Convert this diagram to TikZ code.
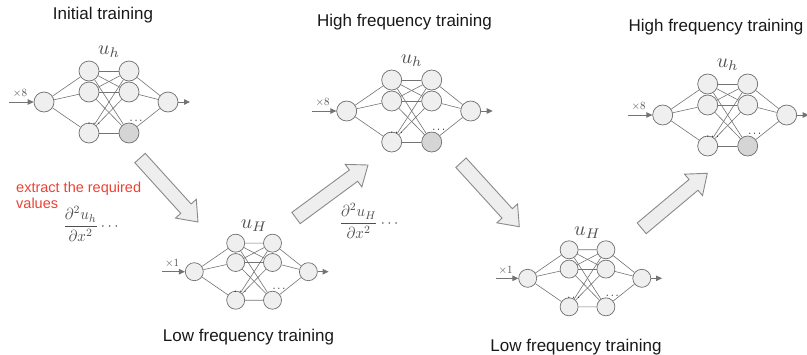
\RequirePackage{fix-cm}
\documentclass[tikz,border=0pt]{standalone}
\usepackage{amsmath}
\usepackage{graphicx}
\usepackage{fontspec}
\newfontfamily\hfont{Liberation Sans}
\usetikzlibrary{calc,arrows.meta}
\definecolor{nfill}{HTML}{EFEFEF}
\definecolor{ndark}{HTML}{D5D5D5}
\definecolor{ncol}{HTML}{6E6E6E}
\definecolor{lcol}{HTML}{737373}
\definecolor{afill}{HTML}{EEEEEE}
\definecolor{acol}{HTML}{8A8A8A}
\definecolor{mcol}{HTML}{505050}
\definecolor{redtxt}{RGB}{234,67,53}
\newcommand\blockarrow[1]{%
  \coordinate (#1h) at ($(#1t)!18pt!(#1s)$);
  \draw[blockarr] ($(#1s)!7pt!90:(#1t)$) -- ($(#1h)!7pt!90:(#1t)$) -- ($(#1h)!14pt!90:(#1t)$)
    -- (#1t) -- ($(#1h)!14pt!-90:(#1t)$) -- ($(#1h)!7pt!-90:(#1t)$) -- ($(#1s)!7pt!-90:(#1t)$) -- cycle;
}
\tikzset{
  neuron/.style={circle, draw=ncol, fill=nfill, line width=0.7pt, inner sep=0pt},
  link/.style={draw=lcol, line width=0.6pt},
  iolink/.style={draw=lcol, line width=0.8pt, -{Triangle[length=6pt,width=5.5pt]}},
  blockarr/.style={draw=acol, fill=afill, line width=0.9pt, line join=miter},
  heading/.style={font=\hfont\fontsize{17}{20}\selectfont, text=black!90, anchor=base, inner sep=0pt},
  netlabel/.style={font=\fontsize{10}{12}\selectfont, text=mcol, inner sep=0pt},
  mullabel/.style={font=\fontsize{10}{12}\selectfont, text=mcol, inner sep=0pt},
  dotslabel/.style={font=\fontsize{10}{12}\selectfont, inner sep=0pt},
  pics/net/.style n args={4}{code={
    \node[neuron, minimum size=#4] (-I) at (0,0) {};
    \node[neuron, minimum size=#4] (-a1) at (45,-31) {};
    \node[neuron, minimum size=#4] (-a2) at (45,-10) {};
    \node[neuron, minimum size=#4] (-a3) at (45,31) {};
    \node[neuron, minimum size=#4] (-b1) at (85,-31) {};
    \node[neuron, minimum size=#4] (-b2) at (85,-10) {};
    \node[neuron, minimum size=#4, fill=#3] (-b3) at (85,31) {};
    \node[neuron, minimum size=#4] (-O) at (124,0) {};
    \draw[link] (-I) -- (-a1); \draw[link] (-I) -- (-a2); \draw[link] (-I) -- (-a3);
    \draw[link] (-a1) -- (-b1); \draw[link] (-a1) -- (-b2); \draw[link] (-a1) -- (-b3);
    \draw[link] (-a2) -- (-b1); \draw[link] (-a2) -- (-b2); \draw[link] (-a2) -- (-b3);
    \draw[link] (-a3) -- (-b1); \draw[link] (-a3) -- (-b2); \draw[link] (-a3) -- (-b3);
    \draw[link] (-b1) -- (-O); \draw[link] (-b2) -- (-O); \draw[link] (-b3) -- (-O);
    \coordinate (-in) at (-35,0);
    \coordinate (-out) at (146,0);
    \draw[iolink] (-in) -- (-I);
    \draw[iolink] (-O) -- (-out);
    \node[netlabel] (-lab) at (65,-50) {\scalebox{2}{#1}};
    \node[mullabel] (-mul) at (-24,-9) {\scalebox{1.1}{#2}};
    \node[dotslabel] (-d1) at (51,22) {\scalebox{1.1}{$\cdots$}};
    \node[dotslabel] (-d2) at (93,19) {\scalebox{1.1}{$\cdots$}};
  }}
}
\begin{document}
\begin{tikzpicture}[x=1pt,y=-1pt]
\useasboundingbox (0,0) rectangle (807,354);
% headings
\node[heading] (h1) at (103,19) {Initial training};
\node[heading] (h2) at (404.5,26) {High frequency training};
\node[heading] (h3) at (716,31) {High frequency training};
\node[heading] (l1) at (248.5,341) {Low frequency training};
\node[heading] (l2) at (576,351) {Low frequency training};
% networks
\pic (n1) at (44,102) {net={$u_h$}{$\times 8$}{ndark}{20pt}};
\pic (n2) at (346.7,111) {net={$u_h$}{$\times 8$}{ndark}{20pt}};
\pic (n3) at (662.7,115) {net={$u_h$}{$\times 8$}{ndark}{20pt}};
\pic[scale=0.92] (n4) at (194.3,271.7) {net={$u_H$}{$\times 1$}{nfill}{18pt}};
\pic[scale=0.92] (n5) at (527.7,278.3) {net={$u_H$}{$\times 1$}{nfill}{18pt}};
% red text
\node[font=\hfont\fontsize{14.5}{16}\selectfont, text=redtxt, anchor=base west, align=left, inner sep=0pt] (ext) at (16,208.5) {extract the required\\values};
% formulas
\node[font=\fontsize{10}{12}\selectfont, text=mcol, inner sep=0pt] (f1) at (92,224) {\scalebox{1.5}[1.6]{$\dfrac{\partial^2 u_h}{\partial x^2}\cdots$}};
\node[font=\fontsize{10}{12}\selectfont, text=mcol, inner sep=0pt] (f2) at (370,221) {\scalebox{1.5}[1.6]{$\dfrac{\partial^2 u_H}{\partial x^2}\cdots$}};
% block arrows
\coordinate (A1s) at (140,158); \coordinate (A1t) at (198,222);
\coordinate (A2s) at (296,218); \coordinate (A2t) at (368,165);
\coordinate (A3s) at (461,162.7); \coordinate (A3t) at (519.3,226.7);
\coordinate (A4s) at (641.7,228.3); \coordinate (A4t) at (707.3,173.3);
\blockarrow{A1}
\blockarrow{A2}
\blockarrow{A3}
\blockarrow{A4}
\end{tikzpicture}
\end{document}
